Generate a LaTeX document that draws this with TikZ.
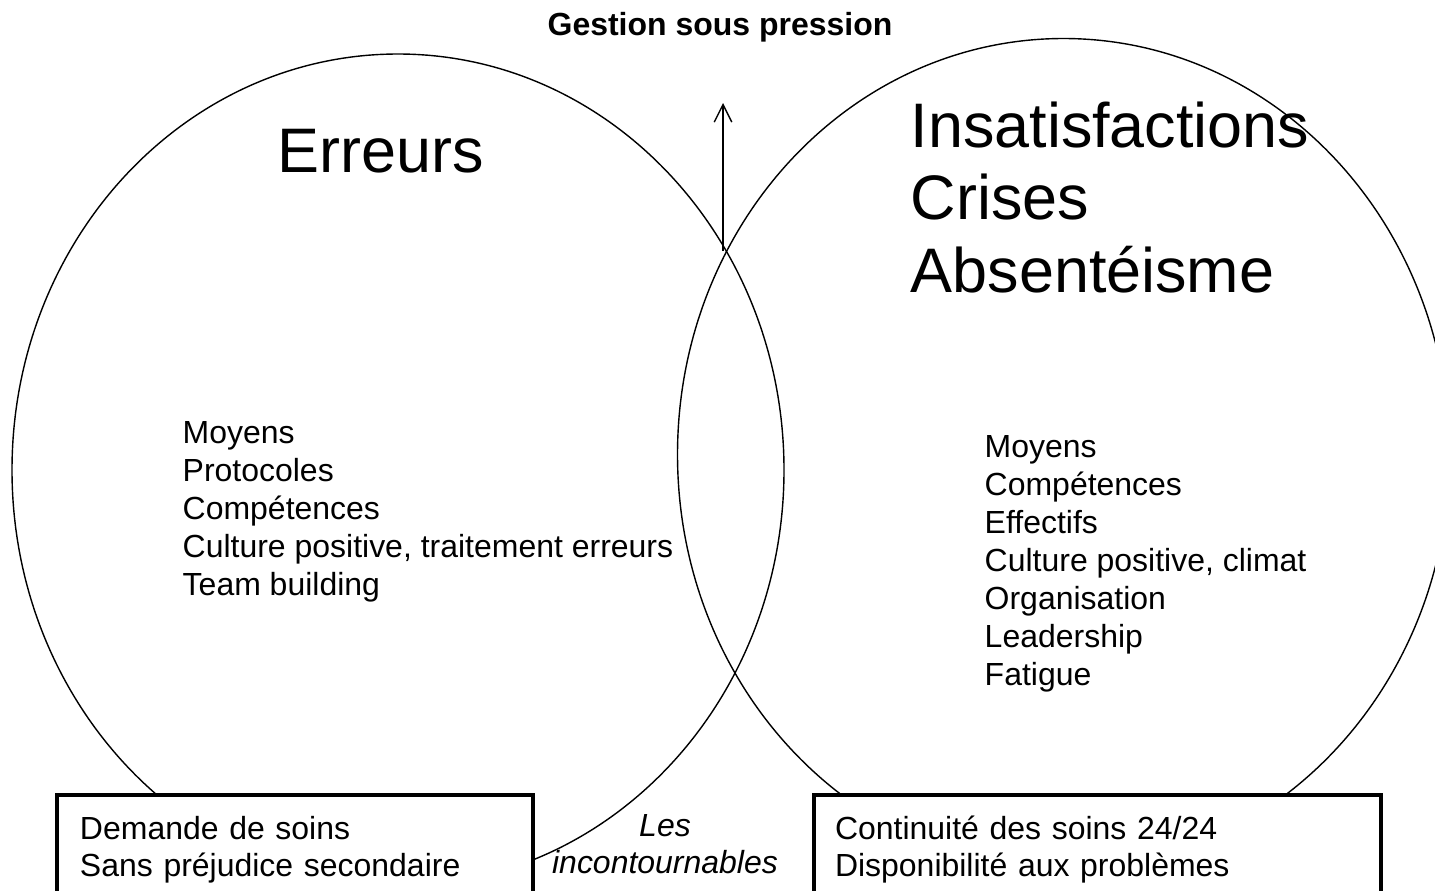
\documentclass[tikz,border=0pt]{standalone}
\usepackage{fontspec}
\setmainfont{Liberation Sans}
\usetikzlibrary{arrows.meta,positioning}

\tikzset{
  body/.style={font=\fontsize{18.2}{21.6}\selectfont, inner sep=0pt},
  big/.style={font=\fontsize{35.8}{41.3}\selectfont, inner sep=0pt, align=left},
  boxed/.style={draw, line width=1.9pt, fill=white, outer sep=0pt, align=left,
    font=\fontsize{18.2}{21.05}\selectfont, minimum height=2.2cm, inner ysep=0pt},
}

\begin{document}
\begin{tikzpicture}[x=0.02cm, y=-0.02cm, line width=0.8pt]
        \useasboundingbox (0,0) rectangle (1435,890);
        \clip (0,0) rectangle (1435,890);

        % Two overlapping circles
        \draw (398,470) ellipse [x radius=386, y radius=416];
        \draw (1063.5,454.5) ellipse [x radius=386, y radius=416];

        % Title and arrow
        \node[inner sep=0pt, font=\fontsize{18.2}{21.6}\selectfont\bfseries, anchor=base] (title) at (720,35) {Gestion sous pression};
        \coordinate (cross) at (723,251);
        \coordinate (head) at (723,103);
        \draw[-{Straight Barb[length=10pt, width=10pt]}] (cross) -- (head);

        % Headings
        \node[big, anchor=base west] (erreurs) at (277,172) {Erreurs};
        \node[big, anchor=north west] (crises) at (910,101) {Insatisfactions\\Crises\\Absentéisme};

        % Lists
        \node[body, anchor=north west, align=left] (listL) at (182,421)
          {Moyens\\Protocoles\\Compétences\\Culture positive, traitement erreurs\\Team building};
        \node[body, anchor=north west, align=left] (listR) at (984,435)
          {Moyens\\Compétences\\Effectifs\\Culture positive, climat\\Organisation\\Leadership\\Fatigue};

        % Boxes
        \node[boxed, anchor=north west, minimum width=9.52cm, text width=8.6cm, inner xsep=0.46cm] (boxL) at (57,795)
          {Demande de soins\\Sans préjudice secondaire};
        \node[boxed, anchor=north west, minimum width=11.34cm, text width=10.5cm, inner xsep=0.42cm] (boxR) at (814,795)
          {Continuité des soins 24/24\\Disponibilité aux problèmes};
        \node[font=\fontsize{18.2}{21.05}\selectfont\itshape, inner sep=0pt, align=center, anchor=north] (incont) at (665,814)
          {Les\\incontournables};

\end{tikzpicture}
\end{document}
